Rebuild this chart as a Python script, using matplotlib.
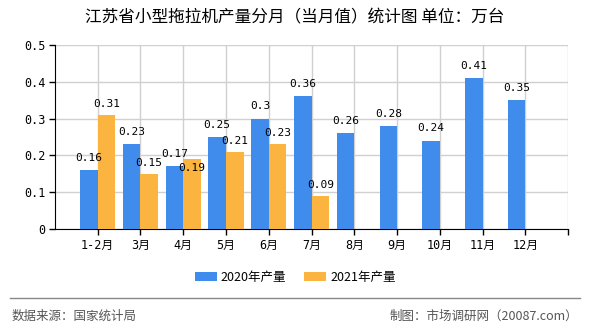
import matplotlib.pyplot as plt
from matplotlib.lines import Line2D
import numpy as np

plt.rcParams['font.family'] = ['Noto Sans CJK SC', 'DejaVu Sans']
mono = ['DejaVu Sans Mono', 'Noto Sans CJK SC']

months = ['1-2月', '3月', '4月', '5月', '6月', '7月', '8月', '9月', '10月', '11月', '12月']
output_2020 = [0.16, 0.23, 0.17, 0.25, 0.3, 0.36, 0.26, 0.28, 0.24, 0.41, 0.35]
output_2021 = [0.31, 0.15, 0.19, 0.21, 0.23, 0.09]
yticks = [0, 0.1, 0.2, 0.3, 0.4, 0.5]
ytick_labels = ['0', '0.1', '0.2', '0.3', '0.4', '0.5']

blue = '#3f8ced'
orange = '#fcb441'

fig = plt.figure(figsize=(5.9, 3.3), dpi=100)
ax = fig.add_axes([0.093, 0.306, 0.87, 0.558])

x = np.arange(len(months))
w = 0.41
b1 = ax.bar(x - w / 2, output_2020, w, color=blue, label='2020年产量', zorder=3)
b2 = ax.bar(np.arange(len(output_2021)) + w / 2, output_2021, w, color=orange,
            label='2021年产量', zorder=3)

# value labels; when the two labels of a month would collide, the 2021 one goes inside its bar
for r, v in zip(b1, output_2020):
    ax.text(r.get_x() + r.get_width() / 2, v + 0.033, str(v),
            ha='center', va='center', fontsize=8, family=mono, zorder=4)
for i, (r, v) in enumerate(zip(b2, output_2021)):
    y = v + 0.03
    if abs(v - output_2020[i]) < 0.035:
        y = v - 0.024
    ax.text(r.get_x() + r.get_width() / 2, y, str(v),
            ha='center', va='center', fontsize=8, family=mono, zorder=4)

ax.set_xlim(-1, 11)
ax.set_ylim(0, 0.5)
ax.set_xticks(list(x) + [11])
ax.set_xticklabels(months + [''], fontsize=8.5, family=mono)
ax.set_yticks(yticks)
ax.set_yticklabels(ytick_labels, fontsize=8.5, family=mono)
ax.grid(True, color='#d0d0d0', linewidth=1, zorder=0)
ax.spines['top'].set_visible(False)
ax.spines['right'].set_visible(False)
ax.tick_params(length=4, width=1, pad=3)

fig.text(0.5, 0.945, '江苏省小型拖拉机产量分月（当月值）统计图 单位：万台',
         ha='center', va='center', fontsize=12)

fig.legend(handles=[b1, b2], loc='center', bbox_to_anchor=(0.5, 0.16), ncol=2,
           frameon=False, fontsize=9, handlelength=1.8, handleheight=0.75,
           columnspacing=1.4, handletextpad=0.3)

fig.add_artist(Line2D([0.017, 0.983], [0.097, 0.097], color='#888888', linewidth=1))
fig.text(0.02, 0.042, '数据来源：国家统计局', ha='left', va='center', fontsize=9, color='#555555')
fig.text(0.98, 0.042, '制图：市场调研网（20087.com）', ha='right', va='center', fontsize=9, color='#555555')

fig.savefig('out.png', dpi=100)
